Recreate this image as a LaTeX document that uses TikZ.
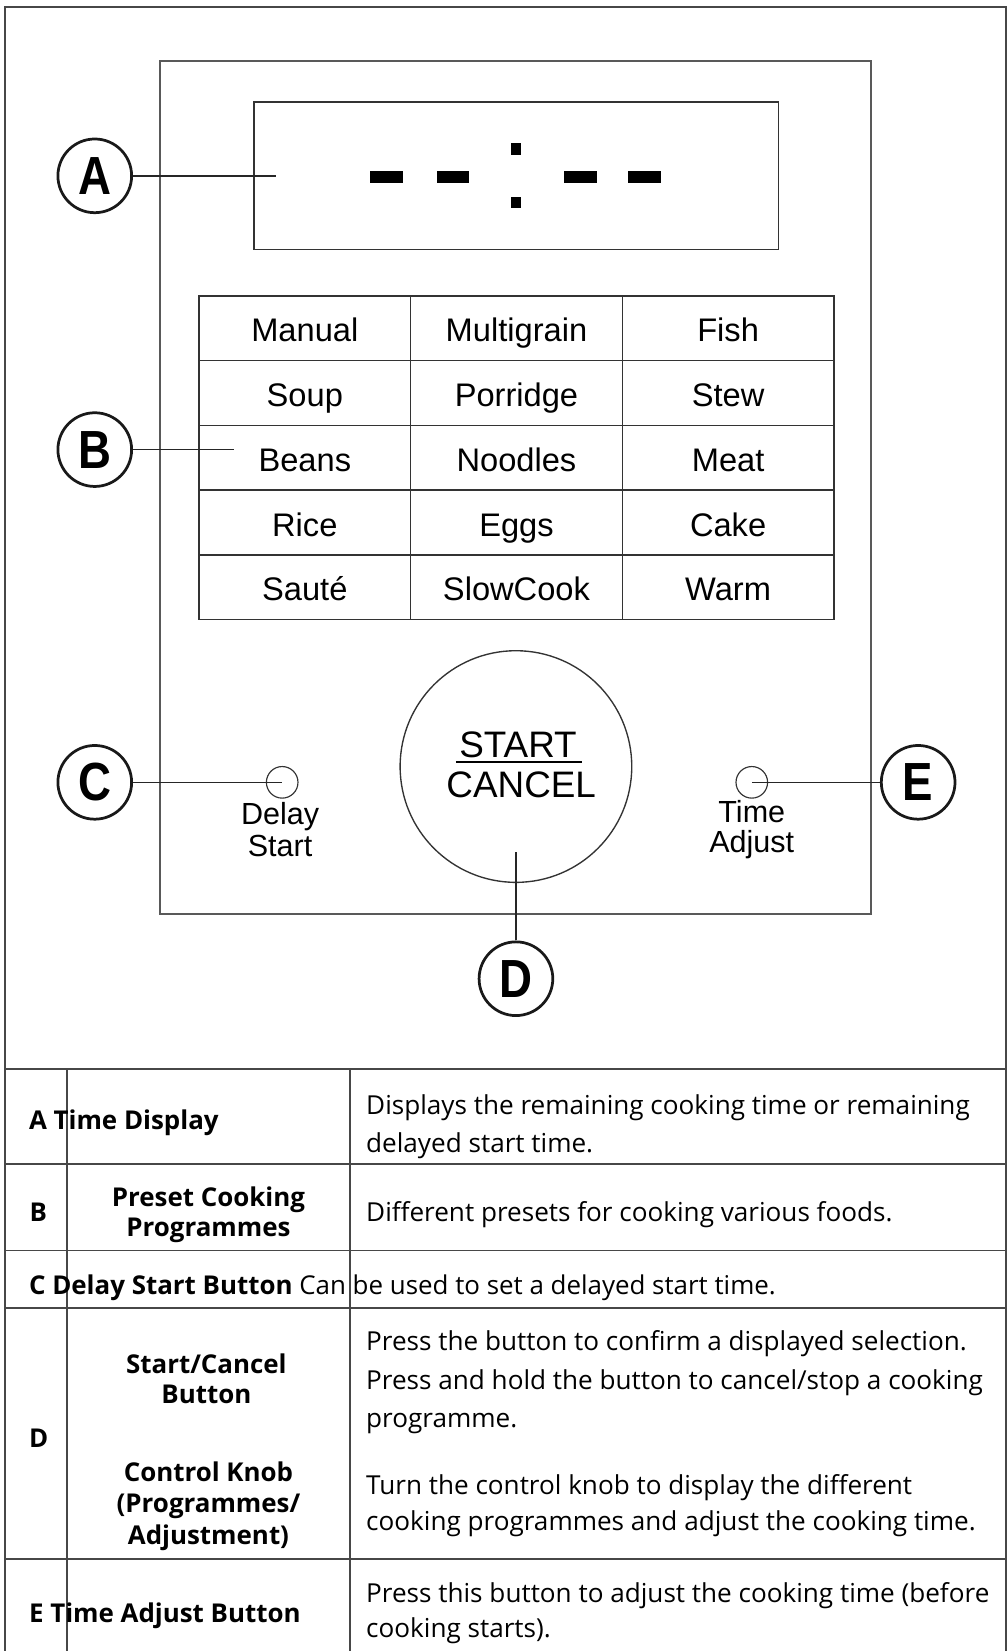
\documentclass[tikz,border=0pt]{standalone}
\usepackage{fontspec}
\setmainfont{Open Sans}
\newfontfamily\panelfont{Liberation Sans}
\newfontfamily\calloutfont[FakeStretch=0.85]{Liberation Sans}
\begin{document}
\begin{tikzpicture}[x=1pt,y=-1pt,
  tableline/.style={draw=black!72, line width=1.8pt},
  panelline/.style={draw=black!65, line width=1.5pt},
  callout/.style={draw=black!90, circle, line width=2.6pt, minimum size=70pt, inner sep=0pt, font=\calloutfont\bfseries\fontsize{51}{51}\selectfont},
  preset/.style={draw=black!80, line width=1.5pt, minimum width=201pt, minimum height=61.5pt, inner sep=0pt, text height=26pt, text depth=0pt, font=\panelfont\fontsize{31}{31}\selectfont},
  button/.style={draw=black!80, circle, line width=1.1pt, minimum size=30pt, inner sep=0pt},
  btntext/.style={anchor=base, align=center, inner sep=0pt, font=\panelfont\fontsize{29}{30}\selectfont},
  leader/.style={draw=black!85, line width=1.3pt},
  keytext/.style={anchor=base west, inner sep=0pt, font=\bfseries\fontsize{24.6}{28.5}\selectfont},
  nametext/.style={anchor=base, align=center, inner sep=0pt, font=\bfseries\fontsize{24.6}{28.5}\selectfont},
  desctext/.style={anchor=base west, align=left, inner sep=0pt, font=\fontsize{24.8}{36}\selectfont}
]
\useasboundingbox (0,0) rectangle (956,1568);
\path[tableline] (4.5,1568) -- (4.5,7) -- (955,7) -- (955,1568);
\path[panelline] (152,58) rectangle (827,868);

\node[draw=black!80, line width=1.5pt, minimum width=498pt, minimum height=140pt] (display) at (490.5,167) {};
\fill (351.8,162.3) rectangle (382.9,173.4);
\fill (414.6,162.3) rectangle (445.7,173.4);
\fill (535.4,162.3) rectangle (566.8,173.4);
\fill (596.2,162.3) rectangle (628,173.4);
\fill (485,136) rectangle (495,147);
\fill (485,187) rectangle (495,198);

\node[preset] (manual) at (289.5,311.75) {Manual};
\node[preset] (multigrain) at (490.5,311.75) {Multigrain};
\node[preset] (fish) at (691.5,311.75) {Fish};
\node[preset] (soup) at (289.5,373.25) {Soup};
\node[preset] (porridge) at (490.5,373.25) {Porridge};
\node[preset] (stew) at (691.5,373.25) {Stew};
\node[preset] (beans) at (289.5,434.75) {Beans};
\node[preset] (noodles) at (490.5,434.75) {Noodles};
\node[preset] (meat) at (691.5,434.75) {Meat};
\node[preset] (rice) at (289.5,496.25) {Rice};
\node[preset] (eggs) at (490.5,496.25) {Eggs};
\node[preset] (cake) at (691.5,496.25) {Cake};
\node[preset] (saute) at (289.5,557.75) {Sauté};
\node[preset] (slowcook) at (490.5,557.75) {SlowCook};
\node[preset] (warm) at (691.5,557.75) {Warm};

\node[draw=black!80, circle, line width=1.3pt, minimum size=220pt] (knob) at (490,728) {};
\node[anchor=base, inner sep=0pt, font=\panelfont\fontsize{35}{35}\selectfont] (startlbl) at (492,719) {START};
\node[anchor=base, inner sep=0pt, font=\panelfont\fontsize{35}{35}\selectfont] (cancellbl) at (495,757) {CANCEL};
\draw[line width=1.4pt] ([shift={(-3,4.5)}]startlbl.base west) -- ([shift={(5,4.5)}]startlbl.base east);

\node[button] (delaybtn) at (268,743) {};
\node[btntext] (delaylbl) at (266,813) {Delay\\Start};
\node[button] (adjustbtn) at (714,743) {};
\node[btntext, font=\panelfont\fontsize{29}{28.5}\selectfont] (adjustlbl) at (714,810) {Time\\Adjust};

\node[callout] (A) at (90,167) {A};
\node[callout] (B) at (90,427) {B};
\node[callout] (C) at (90,743) {C};
\node[callout] (D) at (490,929.5) {D};
\node[callout] (E) at (872,743) {E};
\coordinate (aend) at (262,167);
\coordinate (bend) at (222.5,427);
\coordinate (dend) at (490,809);
\draw[leader] (A) -- (aend);
\draw[leader] (B) -- (bend);
\draw[leader] (C) -- (delaybtn.center);
\draw[leader] (D) -- (dend);
\draw[leader] (adjustbtn.center) -- (E);

\path[tableline] (4.5,1015) -- (955,1015);
\path[tableline] (4.5,1105.3) -- (955,1105.3);
\path[tableline] (4.5,1187.6) -- (955,1187.6);
\path[tableline] (4.5,1242) -- (955,1242);
\path[tableline] (4.5,1480.3) -- (955,1480.3);
\path[tableline] (64,1015) -- (64,1568);
\path[tableline] (332.3,1015) -- (332.3,1568);

\node[keytext] (keya) at (27.4,1072.7) {A Time Display};
\node[desctext] (desca) at (347.6,1094.3) {Displays the remaining cooking time or remaining\\delayed start time.};
\node[keytext] (keyb) at (28,1159.7) {B};
\node[nametext] (nameb) at (198,1174) {Preset Cooking\\Programmes};
\node[desctext] (descb) at (347.6,1160) {Different presets for cooking various foods.};
\node[keytext] (keyc) at (27.4,1229.4) {C Delay Start Button \mdseries Can be used to set a delayed start time.};
\node[keytext] (keyd) at (27.4,1375) {D};
\node[nametext] (named1) at (196,1332.8) {Start/Cancel\\Button};
\node[nametext, font=\bfseries\fontsize{24.6}{30}\selectfont] (named2) at (198,1466.7) {Control Knob\\(Programmes/\\Adjustment)};
\node[desctext, font=\fontsize{24.8}{36.5}\selectfont] (descd1) at (347.6,1356) {Press the button to confirm a displayed selection.\\Press and hold the button to cancel/stop a cooking\\programme.};
\node[desctext, font=\fontsize{24.8}{35}\selectfont] (descd2) at (347.6,1454) {Turn the control knob to display the different\\cooking programmes and adjust the cooking time.};
\node[keytext] (keye) at (27.4,1541) {E Time Adjust Button};
\node[desctext, font=\fontsize{24.8}{33.5}\selectfont] (desce) at (347.6,1555.3) {Press this button to adjust the cooking time (before\\cooking starts).};
\end{tikzpicture}
\end{document}
